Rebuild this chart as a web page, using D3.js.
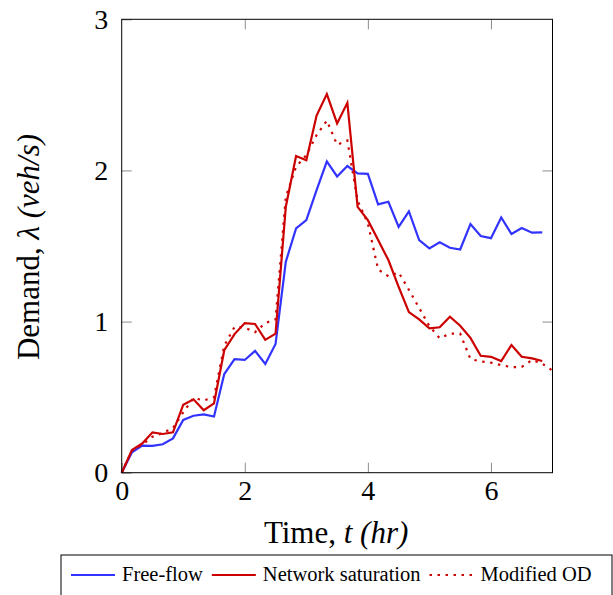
<!DOCTYPE html>
<html>
<head>
<meta charset="utf-8">
<script src="https://cdn.jsdelivr.net/npm/d3@7"></script>
<style>
  body { margin: 0; background: #fff; }
  text { font-family: "Liberation Serif", "Times New Roman", serif; }
</style>
</head>
<body>
<script>
// time steps of 10 min (1/6 hr)
var freeFlow = [0, 0.135, 0.179, 0.177, 0.188, 0.227, 0.349, 0.377, 0.386, 0.372,
  0.653, 0.751, 0.746, 0.806, 0.719, 0.852, 1.396, 1.616, 1.671, 1.870,
  2.060, 1.960, 2.029, 1.980, 1.977, 1.775, 1.793, 1.627, 1.729, 1.539,
  1.484, 1.524, 1.488, 1.477, 1.645, 1.566, 1.552, 1.689, 1.579, 1.619,
  1.588, 1.590];
var saturation = [0, 0.150, 0.193, 0.267, 0.256, 0.267, 0.450, 0.486, 0.413, 0.459,
  0.810, 0.917, 0.990, 0.984, 0.879, 0.920, 1.760, 2.095, 2.068, 2.363,
  2.505, 2.311, 2.447, 1.759, 1.671, 1.539, 1.407, 1.230, 1.063, 1.014,
  0.955, 0.962, 1.032, 0.972, 0.892, 0.774, 0.767, 0.739, 0.845, 0.767,
  0.756, 0.739];
var modifiedOD = [0, 0.146, 0.185, 0.238, 0.262, 0.296, 0.400, 0.494, 0.478, 0.500,
  0.840, 0.965, 0.960, 0.930, 0.990, 1.015, 1.826, 2.024, 2.101, 2.234,
  2.330, 2.170, 2.198, 1.800, 1.649, 1.345, 1.300, 1.325, 1.210, 1.090,
  0.970, 0.890, 0.920, 0.920, 0.752, 0.736, 0.728, 0.712, 0.698, 0.700,
  0.745, 0.722, 0.675];
var xTicks = [0, 2, 4, 6];
var yTicks = [0, 1, 2, 3];
var legendNames = ["Free-flow", "Network saturation", "Modified OD"];

var series = [
  {name: legendNames[0], values: freeFlow, color: "#3333ff", dash: null},
  {name: legendNames[1], values: saturation, color: "#cc0000", dash: null},
  {name: legendNames[2], values: modifiedOD, color: "#cc0000", dash: "2.4,5.6"}
];

var svg = d3.select("body").append("svg")
  .attr("width", 613)
  .attr("height", 595);

var mLeft = 121.7, mRight = 552.5, mTop = 19.3, mBottom = 472.7;
var x = d3.scaleLinear().domain([0, 7]).range([mLeft, mRight]);
var y = d3.scaleLinear().domain([0, 3]).range([mBottom, mTop]);

// ticks (inside, grey) on all four sides
var tickColor = "#8c8c8c";
var fmt = d3.format("d");
var gx = svg.append("g").attr("transform", "translate(0," + mBottom + ")")
  .call(d3.axisBottom(x).tickValues(xTicks).tickFormat(fmt).tickSizeInner(-10).tickSizeOuter(0).tickPadding(7.5));
var gy = svg.append("g").attr("transform", "translate(" + mLeft + ",0)")
  .call(d3.axisLeft(y).tickValues(yTicks).tickFormat(fmt).tickSizeInner(-10).tickSizeOuter(0).tickPadding(13.5));
var gxt = svg.append("g").attr("transform", "translate(0," + mTop + ")")
  .call(d3.axisTop(x).tickValues(xTicks.slice(1)).tickSizeInner(-10).tickSizeOuter(0).tickFormat(""));
var gyr = svg.append("g").attr("transform", "translate(" + mRight + ",0)")
  .call(d3.axisRight(y).tickValues(yTicks.slice(1, 3)).tickSizeInner(-10).tickSizeOuter(0).tickFormat(""));

[gx, gy, gxt, gyr].forEach(function(g) {
  g.select(".domain").remove();
  g.selectAll(".tick line").attr("stroke", tickColor).attr("stroke-width", 1);
  g.selectAll(".tick text")
    .attr("fill", "#000")
    .style("font-family", "'Liberation Serif', serif")
    .style("font-size", "28px");
});

// lines
var line = d3.line()
  .x(function(d, i) { return x(i / 6); })
  .y(function(d) { return y(d); });

svg.append("g").selectAll("path")
  .data(series)
  .enter()
  .append("path")
  .attr("d", function(d) { return line(d.values); })
  .attr("fill", "none")
  .attr("stroke", function(d) { return d.color; })
  .attr("stroke-width", 2.2)
  .attr("stroke-linejoin", "miter")
  .attr("stroke-dasharray", function(d) { return d.dash; });

// frame
svg.append("rect")
  .attr("x", mLeft).attr("y", mTop)
  .attr("width", mRight - mLeft).attr("height", mBottom - mTop)
  .attr("fill", "none").attr("stroke", "#000").attr("stroke-width", 1);

// axis titles
var xt = svg.append("text")
  .attr("x", (mLeft + mRight) / 2 - 1).attr("y", 543)
  .attr("text-anchor", "middle")
  .style("font-size", "31px");
xt.append("tspan").text("Time, ");
xt.append("tspan").attr("font-style", "italic").text("t (hr)");

var yt = svg.append("text")
  .attr("transform", "translate(39," + ((mTop + mBottom) / 2 + 1) + ") rotate(-90)")
  .attr("text-anchor", "middle")
  .style("font-size", "31px");
yt.append("tspan").text("Demand, ");
yt.append("tspan").attr("font-style", "italic").text("λ (veh/s)");

// legend
var lg = svg.append("g");
lg.append("rect")
  .attr("x", 61).attr("y", 555)
  .attr("width", 551).attr("height", 60)
  .attr("fill", "#fff").attr("stroke", "#000").attr("stroke-width", 1);

var lx = 71;
series.forEach(function(s) {
  lg.append("line")
    .attr("x1", lx).attr("x2", lx + 44)
    .attr("y1", 575).attr("y2", 575)
    .attr("stroke", s.color)
    .attr("stroke-width", 2.2)
    .attr("stroke-dasharray", s.dash);
  var t = lg.append("text")
    .attr("x", lx + 51).attr("y", 581)
    .style("font-size", "20.5px")
    .text(s.name);
  lx = lx + 51 + t.node().getComputedTextLength() + 9;
});
</script>
</body>
</html>
